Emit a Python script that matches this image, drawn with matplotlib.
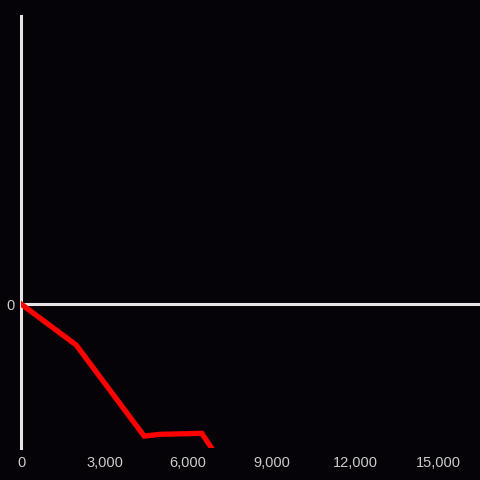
import matplotlib
matplotlib.use("Agg")
import matplotlib.pyplot as plt

x_values = [0, 1980, 4420, 4990, 6490, 7000]
y_values = [0, -28.5, -91.7, -90.5, -89.8, -104.6]
x_ticks = [0, 3000, 6000, 9000, 12000, 15000]
x_tick_labels = ["0", "3,000", "6,000", "9,000", "12,000", "15,000"]
y_ticks = [0]
y_tick_labels = ["0"]

bg = "#050307"
fig = plt.figure(figsize=(4.8, 4.8), dpi=100, facecolor=bg)
ax = fig.add_axes([20.5 / 480, 32 / 480, (480 - 20.5) / 480, 432 / 480])
ax.set_facecolor(bg)

ax.plot(x_values, y_values, color="#ff0000", linewidth=3.8, solid_joinstyle="miter", zorder=3)

ax.set_xlim(-20, 16480)
ax.set_ylim(-100, 200)

ax.axhline(0, color="#e6e6e6", linewidth=2.2, zorder=2)
for s in ["top", "right", "bottom"]:
    ax.spines[s].set_visible(False)
ax.spines["left"].set_color("#e6e6e6")
ax.spines["left"].set_linewidth(2.2)

ax.set_xticks(x_ticks)
ax.set_xticklabels(x_tick_labels)
ax.set_yticks(y_ticks)
ax.set_yticklabels(y_tick_labels)
ax.tick_params(axis="both", length=0, colors="#cccccc", labelsize=10.5)
ax.tick_params(axis="x", pad=5.5)
ax.tick_params(axis="y", pad=4)
for lbl in ax.get_xticklabels() + ax.get_yticklabels():
    lbl.set_fontfamily("Liberation Sans")

fig.savefig("out.png", dpi=100, facecolor=bg)
